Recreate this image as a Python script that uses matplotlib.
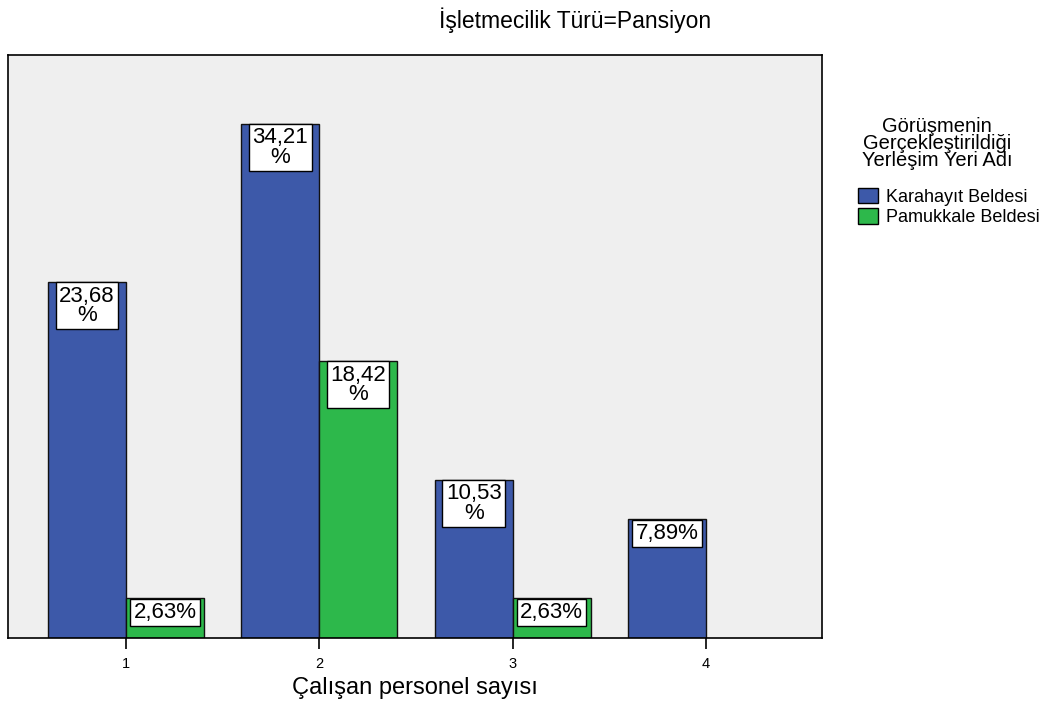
import matplotlib
matplotlib.use("Agg")
from matplotlib import pyplot as plt
from matplotlib.patches import Patch
import numpy as np

plt.rcParams['font.family'] = ['Liberation Sans', 'DejaVu Sans']

categories = ["1", "2", "3", "4"]
series_names = ["Karahayıt Beldesi", "Pamukkale Beldesi"]
karahayit = [23.68, 34.21, 10.53, 7.89]
pamukkale = [2.63, 18.42, 2.63, np.nan]
karahayit_labels = ["23,68\n%", "34,21\n%", "10,53\n%", "7,89%"]
pamukkale_labels = ["2,63%", "18,42\n%", "2,63%", ""]

blue = "#3d59a9"
green = "#2db84b"

def main():
    fig = plt.figure(figsize=(10.53, 7.06), dpi=100)
    ax = fig.add_axes([0.0076, 0.0963, 0.773, 0.8258])
    ax.set_facecolor("#efefef")

    ix = np.arange(1, len(categories) + 1)
    bar_width = 0.403

    b1 = ax.bar(ix - bar_width / 2, karahayit, bar_width, color=blue,
                edgecolor="#111111", linewidth=1)
    b2 = ax.bar(ix + bar_width / 2, pamukkale, bar_width, color=green,
                edgecolor="#111111", linewidth=1)

    # white value boxes hanging from the top of each bar
    for bars, vals, labels in [(b1, karahayit, karahayit_labels),
                               (b2, pamukkale, pamukkale_labels)]:
        for rect, v, lab in zip(bars, vals, labels):
            if not lab:
                continue
            x = rect.get_x() + rect.get_width() / 2
            ax.annotate(lab, (x, v), xytext=(0, -2.5), textcoords="offset points",
                        ha="center", va="top", fontsize=16, linespacing=0.9,
                        bbox=dict(boxstyle="square,pad=0.15", fc="white",
                                  ec="black", lw=1))

    ax.set_xlim(0.39, 4.60)
    ax.set_ylim(0, 38.8)
    ax.set_xticks(ix)
    ax.set_xticklabels(categories, fontsize=10.5)
    ax.tick_params(axis="x", direction="out", length=8, width=1.2, pad=6)
    ax.set_yticks([])
    for s in ax.spines.values():
        s.set_linewidth(1.2)
    ax.set_xlabel("Çalışan personel sayısı", fontsize=17, labelpad=4)

    fig.text(0.5465, 0.972, "İşletmecilik Türü=Pansiyon", ha="center",
             va="center", fontsize=16.5)

    fig.text(0.890, 0.834, "Görüşmenin\nGerçekleştirildiği\nYerleşim Yeri Adı",
             ha="center", va="top", fontsize=14.5, linespacing=0.85)

    handles = [Patch(facecolor=blue, edgecolor="black"),
               Patch(facecolor=green, edgecolor="black")]
    fig.legend(handles, series_names, loc="upper left",
               bbox_to_anchor=(0.815, 0.734), frameon=False,
               fontsize=13, handlelength=1.1, handleheight=0.95,
               handletextpad=0.45, labelspacing=0.15,
               borderaxespad=0, borderpad=0)

    fig.savefig("out.png", dpi=100)

if __name__ == "__main__":
    main()
